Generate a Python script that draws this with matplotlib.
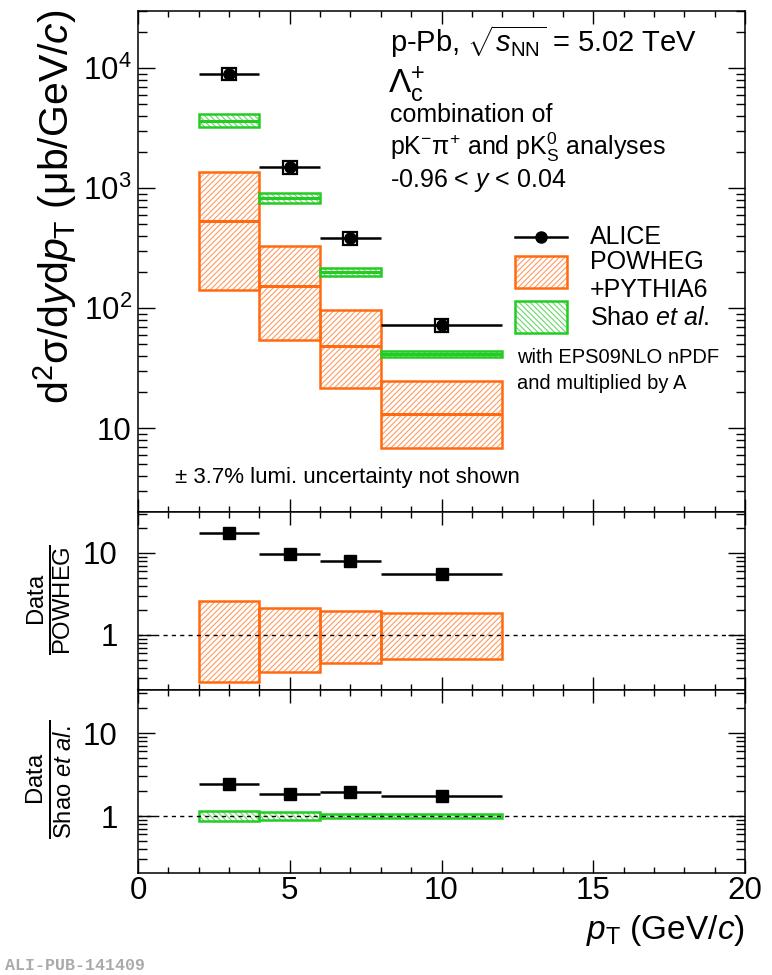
import matplotlib
matplotlib.use('Agg')
import matplotlib.pyplot as plt
import numpy as np
from matplotlib.ticker import FixedLocator, MultipleLocator, LogLocator, NullFormatter, FixedFormatter
from matplotlib.patches import Rectangle
from matplotlib.lines import Line2D

plt.rcParams['font.family'] = ['Liberation Sans', 'DejaVu Sans']
plt.rcParams['mathtext.fontset'] = 'custom'
plt.rcParams['mathtext.rm'] = 'Liberation Sans'
plt.rcParams['mathtext.it'] = 'Liberation Sans:italic'
plt.rcParams['mathtext.bf'] = 'Liberation Sans:bold'
plt.rcParams['hatch.linewidth'] = 0.8

# ---------------- data ----------------
pt_lo = [2, 4, 6, 8]
pt_hi = [4, 6, 8, 12]
pt_c = [3, 5, 7, 10]

alice = [9000, 1500, 383, 72]
alice_stat_rel = [0.08, 0.07, 0.07, 0.08]
alice_sys_rel = [0.12, 0.12, 0.12, 0.12]

powheg_c = [531, 152, 48, 13.1]
powheg_lo = [141, 54, 21.5, 6.8]
powheg_hi = [1360, 329, 96, 24.7]

shao_c = [3620, 826, 200, 41.4]
shao_lo = [3225, 750, 185, 39.0]
shao_hi = [4140, 908, 215, 43.8]

ratio_powheg = [17.5, 9.8, 8.0, 5.5]
ratio_powheg_err = [0.08, 0.07, 0.07, 0.08]
powheg_band_lo = [0.27, 0.354, 0.456, 0.51]
powheg_band_hi = [2.6, 2.13, 1.96, 1.85]

ratio_shao = [2.43, 1.84, 1.95, 1.74]
ratio_shao_err = [0.08, 0.07, 0.07, 0.08]
shao_band_lo = [0.87, 0.89, 0.95, 0.95]
shao_band_hi = [1.15, 1.12, 1.07, 1.05]

xticks = [0, 5, 10, 15, 20]
xticklabels = ['0', '5', '10', '15', '20']
top_yticks = [10, 100, 1000, 10000]
top_yticklabels = ['10', r'10$^{2}$', r'10$^{3}$', r'10$^{4}$']
ratio_yticks = [1, 10]
ratio_yticklabels = ['1', '10']

ORANGE = '#ff6a10'
ORANGE_H = '#ff9a60'
GREEN = '#22cc22'
GREEN_H = '#66d866'
HATCH_O = '/' * 6
HATCH_G = '\\' * 6

W, H = 772, 975
fig = plt.figure(figsize=(W / 100, H / 100), dpi=100)


def fx(x):
    return x / W


def fy(y):
    return 1 - y / H


L, R = 138, 745
ax1 = fig.add_axes([fx(L), fy(512), (R - L) / W, (512 - 11) / H])
ax2 = fig.add_axes([fx(L), fy(690), (R - L) / W, (690 - 512) / H])
ax3 = fig.add_axes([fx(L), fy(873), (R - L) / W, (873 - 690) / H])

lo = np.array(pt_lo, float)
hi = np.array(pt_hi, float)
cen = np.array(pt_c, float)
wid = hi - lo
mid = (lo + hi) / 2


def band(ax, ylo, yhi, ycen, edge, hcol, hatch):
    ylo = np.array(ylo); yhi = np.array(yhi)
    ax.bar(mid, yhi - ylo, bottom=ylo, width=wid, color='none', edgecolor=hcol,
           hatch=hatch, linewidth=0, zorder=2)
    ax.bar(mid, yhi - ylo, bottom=ylo, width=wid, color='none', edgecolor=edge,
           linewidth=1.8, zorder=3)
    if ycen is not None:
        ax.hlines(ycen, lo, hi, colors=edge, linewidth=2.2, zorder=3)


# ---- top panel ----
band(ax1, powheg_lo, powheg_hi, powheg_c, ORANGE, ORANGE_H, HATCH_O)
band(ax1, shao_lo, shao_hi, shao_c, GREEN, GREEN_H, HATCH_G)
a = np.array(alice)
sys = a * np.array(alice_sys_rel)
ax1.bar(cen, 2 * sys, bottom=a - sys, width=0.46, color='none', edgecolor='black',
        linewidth=1.6, zorder=4)
ax1.errorbar(cen, a, xerr=[cen - lo, hi - cen], yerr=a * np.array(alice_stat_rel),
             fmt='o', color='black', markersize=8, elinewidth=1.8, capsize=0, zorder=5)
ax1.set_yscale('log')
ax1.set_ylim(2, 3e4)

# ---- middle panel ----
band(ax2, powheg_band_lo, powheg_band_hi, None, ORANGE, ORANGE_H, HATCH_O)
rp = np.array(ratio_powheg)
ax2.errorbar(cen, rp, xerr=[cen - lo, hi - cen], yerr=rp * np.array(ratio_powheg_err),
             fmt='s', color='black', markersize=9, elinewidth=1.8, capsize=0, zorder=5)
ax2.set_yscale('log')
ax2.set_ylim(0.213, 31.6)

# ---- bottom panel ----
band(ax3, shao_band_lo, shao_band_hi, None, GREEN, GREEN_H, HATCH_G)
rs = np.array(ratio_shao)
ax3.errorbar(cen, rs, xerr=[cen - lo, hi - cen], yerr=rs * np.array(ratio_shao_err),
             fmt='s', color='black', markersize=9, elinewidth=1.8, capsize=0, zorder=5)
ax3.set_yscale('log')
ax3.set_ylim(0.206, 33)

for ax in (ax2, ax3):
    ax.axhline(1, color='black', linestyle=(0, (3, 3)), linewidth=1.0, zorder=6)

TICKFS = 22.5
for ax in (ax1, ax2, ax3):
    ax.set_xlim(0, 20)
    ax.xaxis.set_major_locator(FixedLocator(xticks))
    ax.xaxis.set_minor_locator(MultipleLocator(1))
    ax.tick_params(axis='x', which='major', direction='in', length=9.5, width=1.0,
                   top=True, bottom=True)
    ax.tick_params(axis='x', which='minor', direction='in', length=4.5, width=1.0,
                   top=True, bottom=True)
    ax.tick_params(axis='y', which='major', direction='in', length=12.5, width=1.0,
                   left=True, right=True, labelsize=TICKFS,
                   pad=(4.5 if ax is ax1 else 14.5))
    ax.tick_params(axis='y', which='minor', direction='in', length=6.5, width=1.0,
                   left=True, right=True)
    ax.yaxis.set_minor_locator(LogLocator(base=10, subs=np.arange(2, 10), numticks=20))
    ax.yaxis.set_minor_formatter(NullFormatter())
    for s in ax.spines.values():
        s.set_linewidth(1.1)
    if ax is not ax3:
        ax.set_xticklabels([])

ax3.set_xticklabels(xticklabels)
ax3.tick_params(axis='x', which='major', labelsize=TICKFS, pad=2)

ax1.yaxis.set_major_locator(FixedLocator(top_yticks))
ax1.yaxis.set_major_formatter(FixedFormatter(top_yticklabels))
for ax in (ax2, ax3):
    ax.yaxis.set_major_locator(FixedLocator(ratio_yticks))
    ax.yaxis.set_major_formatter(FixedFormatter(ratio_yticklabels))

# ---- axis labels ----
fig.text(fx(55), fy(207), r'd$^{2}$σ/d$y$d$p_{\rm T}$ (μb/GeV/$c$)', rotation=90,
         ha='center', va='center', fontsize=29.5)
fig.text(fx(50), fy(600), r'$\frac{\rm Data}{\rm POWHEG}$', rotation=90,
         ha='center', va='center', fontsize=24.5)
fig.text(fx(50), fy(779), r'$\frac{\rm Data}{\mathrm{Shao}\ \mathit{et\ al.}}$', rotation=90,
         ha='center', va='center', fontsize=24.5)
fig.text(fx(745), fy(930), r'$p_{\rm T}$ (GeV/$c$)', ha='right', va='center', fontsize=24)

# ---- annotations ----
fig.text(fx(390), fy(42), r'p-Pb, $\sqrt{s_{\rm NN}}$ = 5.02 TeV', ha='left', va='center', fontsize=21)
fig.text(fx(388), fy(85), r'$\Lambda_{\rm c}^{+}$', ha='left', va='center', fontsize=24)
fig.text(fx(390), fy(115), 'combination of', ha='left', va='center', fontsize=18)
fig.text(fx(390), fy(147), r'pK$^{-}$π$^{+}$ and pK$^{0}_{\rm S}$ analyses', ha='left',
         va='center', fontsize=18)
fig.text(fx(390), fy(180), r'-0.96 < $y$ < 0.04', ha='left', va='center', fontsize=18)

# legend
fig.add_artist(Line2D([fx(515), fx(567)], [fy(237), fy(237)], color='black', linewidth=1.8))
fig.add_artist(Line2D([fx(541)], [fy(237)], marker='o', color='black', markersize=8))
fig.text(fx(590), fy(237), 'ALICE', ha='left', va='center', fontsize=18)
for (yt, yb, edge, hcol, hatch) in [(256, 288, ORANGE, ORANGE_H, HATCH_O),
                                    (301, 333, GREEN, GREEN_H, HATCH_G)]:
    fig.add_artist(Rectangle((fx(515), fy(yb)), (567 - 515) / W, (yb - yt) / H,
                             facecolor='none', edgecolor=hcol, hatch=hatch, linewidth=0,
                             transform=fig.transFigure))
    fig.add_artist(Rectangle((fx(515), fy(yb)), (567 - 515) / W, (yb - yt) / H,
                             facecolor='none', edgecolor=edge, linewidth=1.8,
                             transform=fig.transFigure))
fig.text(fx(590), fy(262), 'POWHEG', ha='left', va='center', fontsize=18)
fig.text(fx(590), fy(290), '+PYTHIA6', ha='left', va='center', fontsize=18)
fig.text(fx(590), fy(318), r'Shao $\mathit{et\ al.}$', ha='left', va='center', fontsize=18)
fig.text(fx(517), fy(358), 'with EPS09NLO nPDF', ha='left', va='center', fontsize=14.5)
fig.text(fx(517), fy(383), 'and multiplied by A', ha='left', va='center', fontsize=14.5)

fig.text(fx(175), fy(478), '± 3.7% lumi. uncertainty not shown', ha='left', va='center',
         fontsize=16)

fig.text(fx(5), fy(965), 'ALI-PUB-141409', ha='left', va='center', fontsize=12,
         family='Liberation Mono', color='#aaaaaa', fontweight='bold')

fig.savefig('out.png', dpi=100)
